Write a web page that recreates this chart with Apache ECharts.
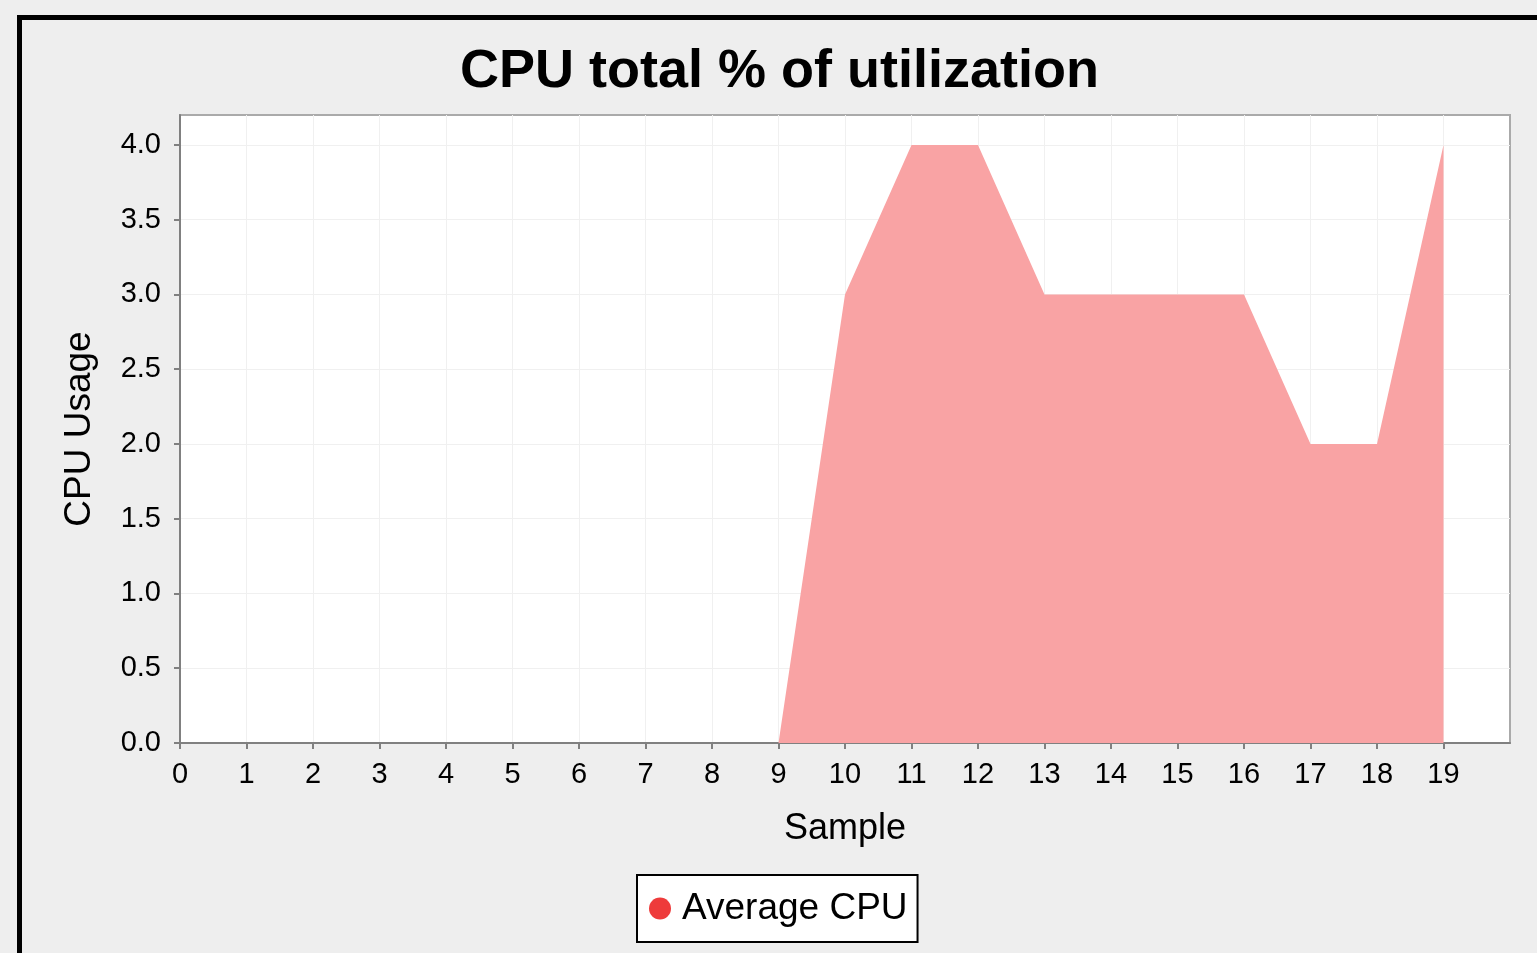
<!DOCTYPE html>
<html>
<head>
    <meta charset="utf-8" />
    <script src="https://cdn.jsdelivr.net/npm/echarts@6/dist/echarts.min.js"></script>
    <title>CPU total % of utilization</title>
    <style>
        body { margin: 0; background: #eeeeee; }
    </style>
</head>
<body>
    <div id="main" style="width:1537px; height:953px"></div>
    <script type="text/javascript">
        // samples 0..19, average cpu per sample
        var samples = [0, 1, 2, 3, 4, 5, 6, 7, 8, 9, 10, 11, 12, 13, 14, 15, 16, 17, 18, 19];
        var avgCpu = [0, 0, 0, 0, 0, 0, 0, 0, 0, 0, 3, 4, 4, 3, 3, 3, 3, 2, 2, 4];
        var yTicks = [0, 0.5, 1, 1.5, 2, 2.5, 3, 3.5, 4];

        var points = [];
        for (var i = 0; i < samples.length; i++) {
            points.push([samples[i], avgCpu[i]]);
        }

        var font = 'Liberation Sans, Arial, sans-serif';
        var myChart = echarts.init(document.getElementById('main'));
        myChart.setOption({
            backgroundColor: '#eeeeee',
            animation: false,
            title: {
                text: 'CPU total % of utilization',
                left: 455,
                top: 40,
                textStyle: { fontFamily: font, fontSize: 54, fontWeight: 'bold', color: '#000' }
            },
            legend: {
                data: ['Average CPU'],
                left: 637,
                top: 875,
                icon: 'circle',
                itemWidth: 22,
                itemHeight: 24,
                itemGap: 8,
                padding: [15, 10, 15, 12],
                backgroundColor: '#ffffff',
                borderColor: '#000',
                borderWidth: 2,
                borderRadius: 0,
                textStyle: { fontFamily: font, fontSize: 37, color: '#000', padding: [0, 0, 0, 6] }
            },
            grid: {
                left: 180,
                top: 115,
                right: 27,
                bottom: 210,
                show: true,
                backgroundColor: '#ffffff',
                borderColor: '#aaaaaa',
                borderWidth: 2
            },
            xAxis: {
                type: 'value',
                min: 0,
                max: 20,
                interval: 1,
                name: 'Sample',
                nameLocation: 'middle',
                nameGap: 68,
                nameTextStyle: { fontFamily: font, fontSize: 36, color: '#000' },
                axisLine: { lineStyle: { color: '#808080', width: 2 } },
                axisTick: { length: 6, lineStyle: { color: '#808080', width: 2 }, customValues: samples },
                axisLabel: { fontFamily: font, fontSize: 29, color: '#000', margin: 17, customValues: samples },
                splitLine: { lineStyle: { color: '#f0f0f0', width: 1 } }
            },
            yAxis: {
                type: 'value',
                min: 0,
                max: 4.2,
                interval: 0.5,
                name: 'CPU Usage',
                nameLocation: 'middle',
                nameGap: 82,
                nameTextStyle: { fontFamily: font, fontSize: 37, color: '#000' },
                axisLine: { show: true, lineStyle: { color: '#808080', width: 2 } },
                axisTick: { show: true, length: 6, lineStyle: { color: '#808080', width: 2 }, customValues: yTicks },
                axisLabel: {
                    fontFamily: font, fontSize: 29, color: '#000', margin: 19,
                    customValues: yTicks,
                    formatter: function (v) { return v.toFixed(1); }
                },
                splitLine: { lineStyle: { color: '#f0f0f0', width: 1 } }
            },
            series: [
                {
                    name: 'Average CPU',
                    type: 'line',
                    data: points,
                    showSymbol: false,
                    itemStyle: { color: '#ee3b3b' },
                    lineStyle: { width: 0 },
                    areaStyle: { color: '#f9a3a4', opacity: 1 }
                }
            ],
            graphic: [
                { type: 'rect', shape: { x: 17, y: 15, width: 1520, height: 5 }, style: { fill: '#000' } },
                { type: 'rect', shape: { x: 17, y: 15, width: 5, height: 938 }, style: { fill: '#000' } }
            ]
        });
    </script>
</body>
</html>
